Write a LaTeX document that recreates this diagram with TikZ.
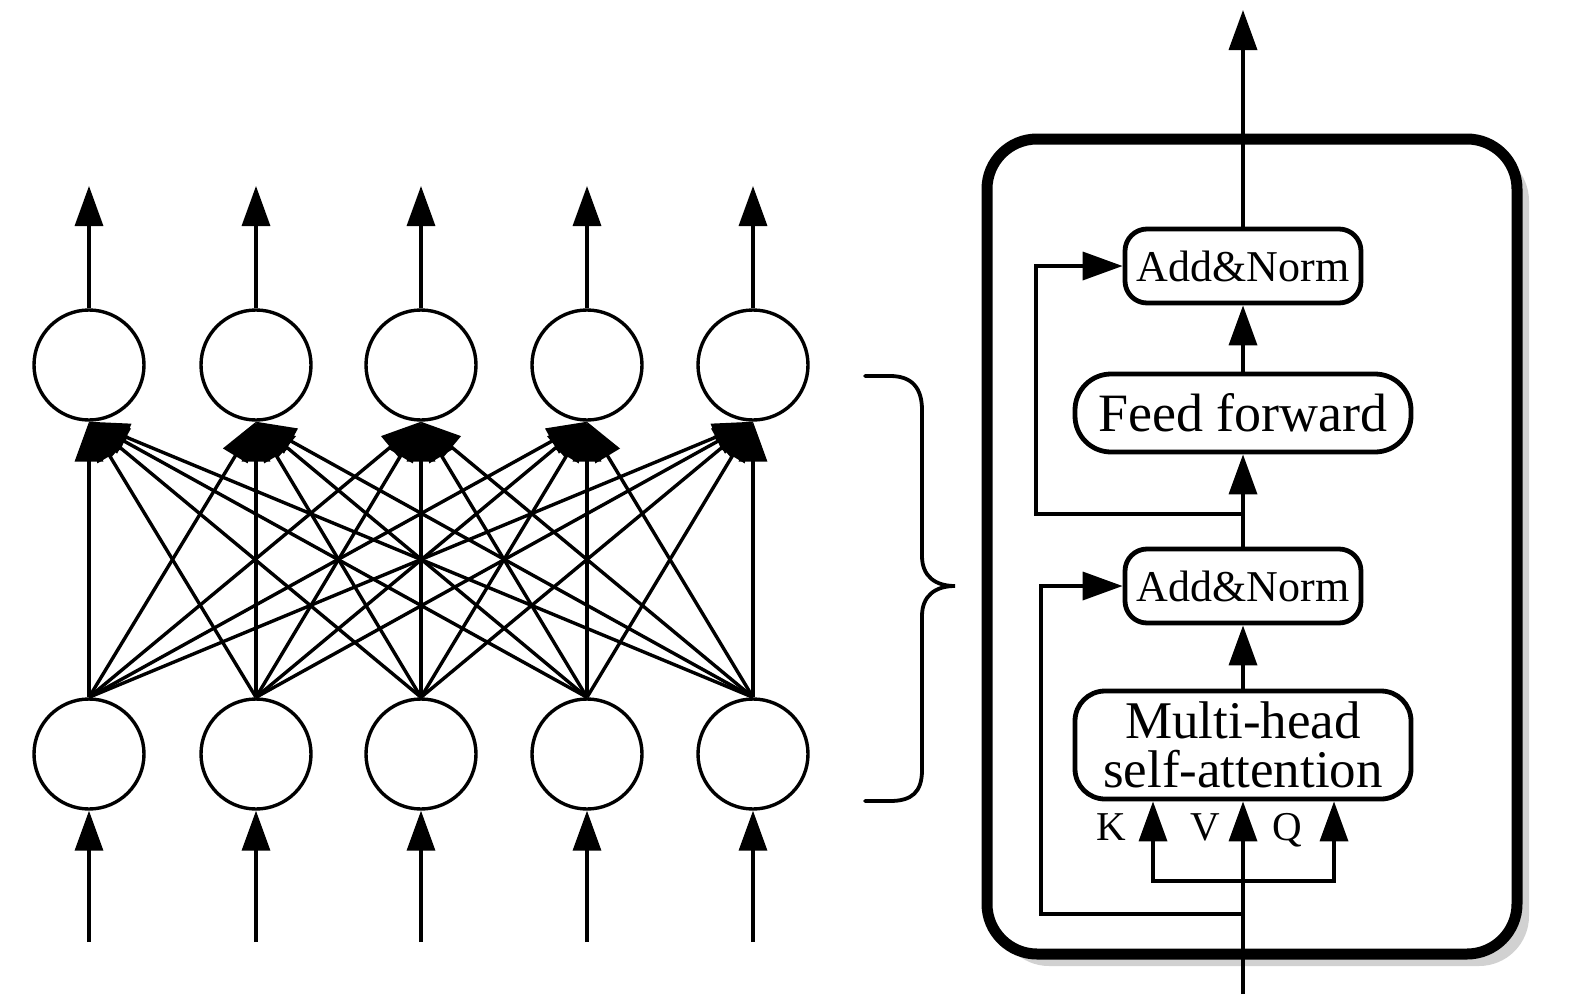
\documentclass[tikz,border=0pt]{standalone}
\usepackage{fontspec}
\setmainfont{Liberation Serif}
\usetikzlibrary{arrows.meta,shadows}
\begin{document}
\begin{tikzpicture}[x=1pt,y=-1pt,
  net/.style={line width=3.4pt, -{Triangle[length=40pt,width=28pt]}},
  arr/.style={line width=3.6pt, -{Triangle[length=40pt,width=28pt]}},
  circ/.style={circle, draw, line width=3.4pt, minimum size=110pt, inner sep=0pt},
  blk/.style={draw, line width=4.8pt, fill=white, inner sep=0pt, align=center},
  anbox/.style={blk, minimum width=236pt, minimum height=74pt, rounded corners=22pt, font=\fontsize{44pt}{48pt}\selectfont},
  lbl/.style={inner sep=0pt, anchor=base, font=\fontsize{41pt}{44pt}\selectfont}
]
\useasboundingbox (0,0) rectangle (1575,1002);
% ---------- left network ----------
\foreach \i/\x in {1/89,2/256,3/421,4/587,5/753}{
  \node[circ] (t\i) at (\x,365) {};
  \node[circ] (b\i) at (\x,754) {};
  \coordinate (ot\i) at (\x,186);
  \coordinate (ib\i) at (\x,942);
}
\foreach \i in {1,...,5}{
  \draw[net] (t\i.north) -- (ot\i);
  \draw[net] (ib\i) -- (b\i.south);
  \foreach \j in {1,...,5}{
    \draw[net] (b\i.north) -- (t\j.south);
  }
}
% ---------- brace ----------
\draw[line width=3.8pt, line cap=round]
  (865,376) -- (890,376) .. controls (912,376) and (922,388) .. (922,410)
  -- (922,556) .. controls (922,576) and (935,586) .. (955,586)
  .. controls (935,586) and (922,596) .. (922,616)
  -- (922,770) .. controls (922,792) and (912,801) .. (890,801) -- (865,801);
% ---------- right block ----------
\node[draw, line width=11pt, fill=white, rounded corners=50pt,
      minimum width=530pt, minimum height=815pt, inner sep=0pt,
      drop shadow={shadow xshift=12pt, shadow yshift=-12pt, fill=black!30, opacity=0.6}]
      (outer) at (1252,546.5) {};
\node[anbox] (an2) at (1243,266) {Add\&Norm};
\node[blk, minimum width=336pt, minimum height=78pt, rounded corners=36pt,
      font=\fontsize{54pt}{58pt}\selectfont] (ff) at (1243,413) {Feed forward};
\node[anbox] (an1) at (1243,586) {Add\&Norm};
\node[blk, minimum width=336pt, minimum height=108pt, rounded corners=30pt,
      font=\fontsize{53pt}{49pt}\selectfont] (mh) at (1243,745) {Multi-head\\self-attention};
\coordinate (topout) at (1243,10);
\coordinate (in) at (1243,994);
\coordinate (s1) at (1243,514);
\coordinate (k1) at (1036,514);
\coordinate (s2) at (1243,914);
\coordinate (k2) at (1041,914);
\coordinate (sp) at (1243,881);
\coordinate (kx) at (1153,881);
\coordinate (qx) at (1334,881);
\draw[arr] (an2.north) -- (topout);
\draw[arr] (ff.north) -- (an2.south);
\draw[arr] (an1.north) -- (ff.south);
\draw[arr] (mh.north) -- (an1.south);
\draw[arr] (s1) -- (k1) |- (an2.west);
\draw[arr] (s2) -- (k2) |- (an1.west);
\draw[arr] (in) -- (mh.south);
\draw[arr] (sp) -- (kx) -- (kx |- mh.south);
\draw[arr] (sp) -- (qx) -- (qx |- mh.south);
\node[lbl] (K) at (1111,840) {K};
\node[lbl] (V) at (1205,840) {V};
\node[lbl] (Q) at (1287,840) {Q};
\end{tikzpicture}
\end{document}
